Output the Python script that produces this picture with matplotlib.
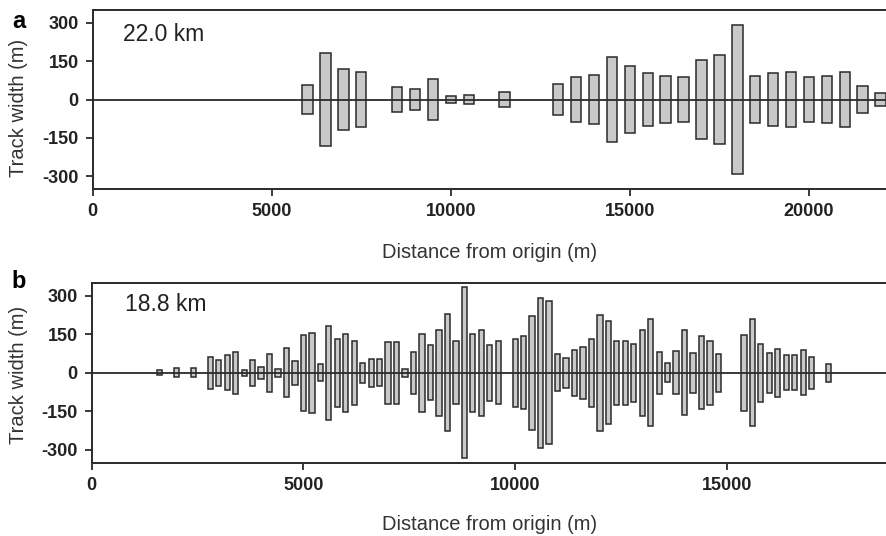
import matplotlib
matplotlib.use("Agg")
import matplotlib.pyplot as plt

plt.rcParams["font.family"] = ["Liberation Sans", "DejaVu Sans"]
plt.rcParams["axes.unicode_minus"] = False

# panel a: 22.0 km track, bars every 500 m (half track width, m)
a_dist = [6000, 6500, 7000, 7500, 8500, 9000, 9500, 10000, 10500, 11500,
          13000, 13500, 14000, 14500, 15000, 15500, 16000, 16500, 17000,
          17500, 18000, 18500, 19000, 19500, 20000, 20500, 21000, 21500, 22000]
a_half = [55, 180, 121, 108, 50, 40, 80, 15, 18, 30,
          61, 88, 96, 165, 131, 102, 92, 89, 154,
          174, 291, 93, 103, 109, 88, 93, 106, 54, 26]

# panel b: 18.8 km track, bars every 200 m
b_dist = [1600, 2000, 2400, 2800, 3000, 3200, 3400, 3600, 3800, 4000,
          4200, 4400, 4600, 4800, 5000, 5200, 5400, 5600, 5800, 6000,
          6200, 6400, 6600, 6800, 7000, 7200, 7400, 7600, 7800, 8000,
          8200, 8400, 8600, 8800, 9000, 9200, 9400, 9600, 10000, 10200,
          10400, 10600, 10800, 11000, 11200, 11400, 11600, 11800, 12000, 12200,
          12400, 12600, 12800, 13000, 13200, 13400, 13600, 13800, 14000, 14200,
          14400, 14600, 14800, 15400, 15600, 15800, 16000, 16200, 16400, 16600,
          16800, 17000, 17400]
b_half = [9, 17, 17, 62, 50, 67, 81, 12, 50, 23,
          74, 15, 95, 46, 147, 156, 32, 182, 133, 151,
          125, 39, 55, 52, 121, 120, 15, 81, 151, 108,
          167, 228, 122, 333, 151, 167, 109, 123, 132, 141,
          221, 292, 277, 71, 58, 89, 101, 132, 226, 201,
          125, 125, 112, 167, 208, 81, 36, 83, 166, 78,
          142, 125, 74, 147, 207, 112, 78, 94, 68, 68,
          87, 62, 35]

yticks = [-300, -150, 0, 150, 300]
edge = "#2a2a2a"
fill = "#c9c9c9"

fig = plt.figure(figsize=(8.87, 5.36), dpi=100)
W, H = 887, 536


def make_axes(left, top, right, bottom):
    return fig.add_axes([left / W, 1 - bottom / H, (right - left) / W, (bottom - top) / H])


ax_a = make_axes(92.7, 10, 887, 189)
ax_b = make_axes(91.7, 282.7, 887, 462.7)

panels = [
    (ax_a, a_dist, a_half, 290, 22180, [0, 5000, 10000, 15000, 20000], "22.0 km"),
    (ax_b, b_dist, b_half, 125, 18780, [0, 5000, 10000, 15000], "18.8 km"),
]

for ax, dist, half, bw, xmax, xticks, label in panels:
    ax.bar(dist, [2 * h for h in half], bottom=[-h for h in half], width=bw,
           color=fill, edgecolor=edge, linewidth=1.1, zorder=2)
    ax.axhline(0, color=edge, linewidth=1.3, zorder=3)
    ax.set_xlim(0, xmax)
    ax.set_ylim(-350, 350)
    ax.set_yticks(yticks)
    ax.set_xticks(xticks)
    ax.spines["right"].set_visible(False)
    for s in ["left", "bottom", "top"]:
        ax.spines[s].set_color(edge)
        ax.spines[s].set_linewidth(1.4)
    ax.tick_params(axis="both", direction="out", length=5, width=1.3, color=edge,
                   labelsize=13, pad=5)
    for t in ax.get_xticklabels() + ax.get_yticklabels():
        t.set_fontweight("bold")
        t.set_color("#222222")
    ax.text(125 / W, 0, label, transform=fig.transFigure, fontsize=16.5, color="#222222")

# km labels positioned in figure pixels
ax_a.texts[0].set_position((123 / W, 1 - 41 / H))
ax_b.texts[0].set_position((125 / W, 1 - 311 / H))

# axis labels and panel letters
for yc in [108, 375]:
    fig.text(18.5 / W, 1 - yc / H, "Track width (m)", rotation=90, ha="center", va="center",
             fontsize=14.5, color="#333333")
for yc in [252, 524]:
    fig.text(490 / W, 1 - yc / H, "Distance from origin (m)", ha="center", va="center",
             fontsize=14.5, color="#333333")
fig.text(18.5 / W, 1 - 21 / H, "a", ha="center", va="center", fontsize=17, fontweight="bold")
fig.text(18.5 / W, 1 - 281 / H, "b", ha="center", va="center", fontsize=17, fontweight="bold")

fig.savefig("out.png", dpi=100)
